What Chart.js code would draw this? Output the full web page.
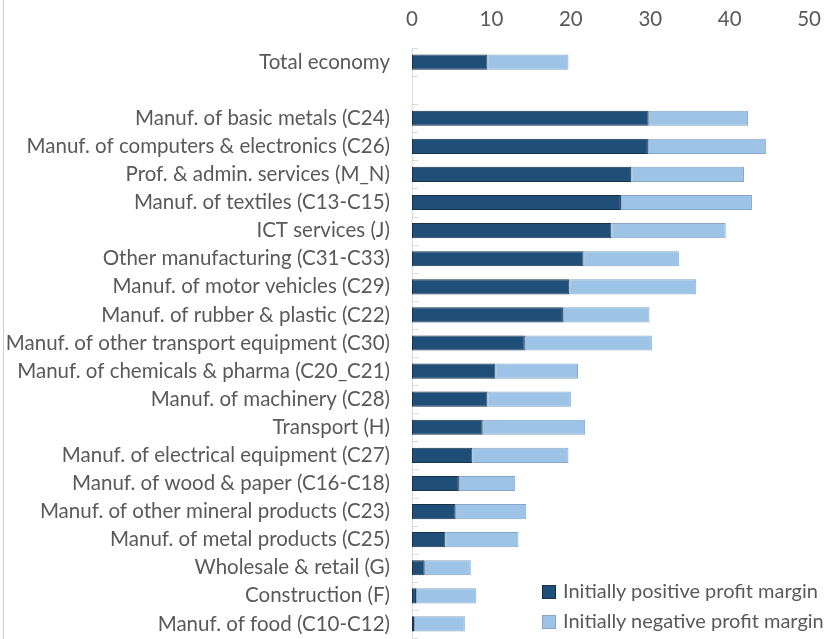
<!DOCTYPE html>
<html lang="en">
<head>
    <meta charset="UTF-8">
    <title>Profit margin by sector</title>
    <script src="https://cdn.jsdelivr.net/npm/chart.js"></script>
    <style>
        body {
            margin: 0;
            background: #fff;
            font-family: Lato, sans-serif;
        }
        #wrap {
            position: relative;
            width: 829px;
            height: 639px;
        }
        #edge {
            position: absolute;
            left: 3px;
            top: 0;
            width: 1px;
            height: 639px;
            background: #d0d0d0;
        }
        #legend {
            position: absolute;
            left: 542px;
            top: 575px;
            color: #595959;
            font-size: 20px;
        }
        #legend div {
            height: 30px;
            line-height: 30px;
            white-space: nowrap;
        }
        #legend span {
            display: inline-block;
            width: 14px;
            height: 14px;
            margin-right: 7px;
            vertical-align: -1px;
            box-sizing: border-box;
        }
    </style>
</head>
<body>
<div id="wrap">
    <canvas id="chart" width="829" height="639"></canvas>
    <div id="edge"></div>
    <div id="legend"></div>
</div>
<script>
    // data
    const categories = [
        'Total economy',
        '',
        'Manuf. of basic metals (C24)',
        'Manuf. of computers & electronics (C26)',
        'Prof. & admin. services (M_N)',
        'Manuf. of textiles (C13-C15)',
        'ICT services (J)',
        'Other manufacturing (C31-C33)',
        'Manuf. of motor vehicles (C29)',
        'Manuf. of rubber & plastic (C22)',
        'Manuf. of other transport equipment (C30)',
        'Manuf. of chemicals & pharma (C20_C21)',
        'Manuf. of machinery (C28)',
        'Transport (H)',
        'Manuf. of electrical equipment (C27)',
        'Manuf. of wood & paper (C16-C18)',
        'Manuf. of other mineral products (C23)',
        'Manuf. of metal products (C25)',
        'Wholesale & retail (G)',
        'Construction (F)',
        'Manuf. of food (C10-C12)'
    ];
    const positiveMargin = [9.5, null, 29.8, 29.7, 27.6, 26.3, 25.1, 21.6, 19.8, 19.0, 14.2, 10.5, 9.5, 8.9, 7.6, 5.9, 5.5, 4.2, 1.6, 0.5, 0.25];
    const negativeMargin = [10.2, null, 12.5, 14.9, 14.2, 16.5, 14.4, 12.0, 16.0, 10.9, 16.0, 10.4, 10.5, 12.9, 12.1, 7.1, 8.9, 9.2, 5.8, 7.6, 6.4];
    const seriesNames = ['Initially positive profit margin', 'Initially negative profit margin'];
    const xTicks = [0, 10, 20, 30, 40, 50];

    const darkBlue = '#1f4e79';
    const lightBlue = '#9dc3e6';
    const textGrey = '#595959';

    // small inward tick marks on the category axis, like the original
    const categoryTicks = {
        id: 'categoryTicks',
        afterDraw(chart) {
            const y = chart.scales.y;
            const ctx = chart.ctx;
            const band = y.getPixelForValue(1) - y.getPixelForValue(0);
            ctx.save();
            ctx.strokeStyle = '#d9d9d9';
            ctx.lineWidth = 1;
            ctx.beginPath();
            for (let i = 0; i <= categories.length; i++) {
                const py = Math.round(y.getPixelForValue(i) - band / 2) + 0.5;
                ctx.moveTo(y.right, py);
                ctx.lineTo(y.right + 6, py);
            }
            ctx.stroke();
            ctx.restore();
        }
    };

    const chart = new Chart(document.getElementById('chart'), {
        type: 'bar',
        data: {
            labels: categories,
            datasets: [
                {
                    label: seriesNames[0],
                    data: positiveMargin,
                    backgroundColor: darkBlue,
                    borderColor: '#17324d',
                    borderWidth: 1,
                    borderSkipped: false
                },
                {
                    label: seriesNames[1],
                    data: negativeMargin,
                    backgroundColor: lightBlue,
                    borderColor: '#86a6c8',
                    borderWidth: 1,
                    borderSkipped: false
                }
            ]
        },
        options: {
            indexAxis: 'y',
            responsive: false,
            animation: false,
            layout: { padding: { left: 0, right: 15, top: 0, bottom: 1 } },
            datasets: {
                bar: { categoryPercentage: 1, barPercentage: 0.54 }
            },
            plugins: {
                legend: { display: false },
                tooltip: { enabled: false }
            },
            scales: {
                x: {
                    position: 'top',
                    stacked: true,
                    min: 0,
                    max: 50,
                    afterBuildTicks: (scale) => {
                        scale.ticks = xTicks.map(v => ({ value: v }));
                    },
                    afterFit: (scale) => { scale.height = 48; },
                    grid: { display: false },
                    border: { display: false },
                    ticks: {
                        color: textGrey,
                        padding: 8,
                        font: { family: 'Lato', size: 20.5 }
                    }
                },
                y: {
                    stacked: true,
                    afterFit: (scale) => {
                        scale.width = 412;
                        scale.paddingTop = 0;
                        scale.paddingBottom = 0;
                    },
                    grid: { drawOnChartArea: false, drawTicks: false },
                    border: { color: '#d9d9d9' },
                    ticks: {
                        color: textGrey,
                        padding: 22,
                        autoSkip: false,
                        font: { family: 'Lato', size: 20.5 }
                    }
                }
            }
        },
        plugins: [categoryTicks]
    });

    // legend stacked at the bottom right
    const legend = document.getElementById('legend');
    chart.data.datasets.forEach(ds => {
        const row = document.createElement('div');
        const box = document.createElement('span');
        box.style.background = ds.backgroundColor;
        box.style.border = '1px solid ' + ds.borderColor;
        row.appendChild(box);
        row.appendChild(document.createTextNode(ds.label));
        legend.appendChild(row);
    });
</script>
</body>
</html>
